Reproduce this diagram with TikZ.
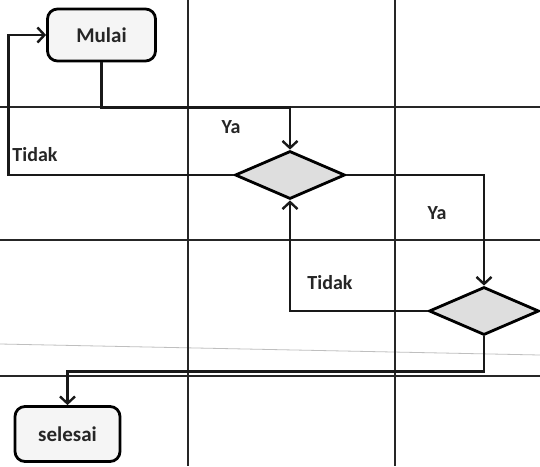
\documentclass[tikz,border=0pt]{standalone}
\usepackage{fontspec}
\setmainfont{Carlito}
\usetikzlibrary{shapes.geometric,arrows.meta}
\begin{document}
\begin{tikzpicture}[x=1pt,y=-1pt,
  grid/.style={line width=2pt,black!85},
  conn/.style={line width=2.8pt,black!90,-{Straight Barb[length=7pt,width=15pt,line width=2.4pt]}},
  startbox/.style={draw,line width=2.8pt,rounded corners=10pt,fill=black!4,minimum width=108pt,minimum height=52pt,inner sep=0pt,font=\bfseries\fontsize{21}{24}\selectfont,text=black!85},
  decision/.style={draw,diamond,line width=2.8pt,fill=black!13,minimum width=110pt,minimum height=48pt,inner sep=0pt,aspect=2.3},
  lbl/.style={font=\bfseries\fontsize{20}{24}\selectfont,inner sep=0pt,text=black!85}]
\useasboundingbox (0,0) rectangle (540,466);
\fill[white] (0,0) rectangle (540,466);
% scan artifact
\draw[black!25,line width=0.8pt] (0,344) -- (540,355);
% grid
\draw[grid] (188,0) -- (188,466);
\draw[grid] (395,0) -- (395,466);
\draw[grid] (0,107) -- (540,107);
\draw[grid] (0,240) -- (540,240);
\draw[grid] (0,376) -- (540,376);
% nodes
\node[startbox] (mulai) at (101.5,35) {Mulai};
\node[startbox,minimum width=105pt,minimum height=55pt] (selesai) at (67.5,434) {selesai};
\node[decision] (d1) at (290,175) {};
\node[decision] (d2) at (484,311) {};
% connectors
\draw[conn] (mulai.south) -- ++(0,45) -| (d1.north);
\draw[conn] (d1.west) -- ++(-225,0) |- (mulai.west);
\draw[conn] (d1.east) -| (d2.north);
\draw[conn] (d2.west) -| (d1.south);
\draw[conn] (d2.south) -- ++(0,35) -| (selesai.north);
% labels
\node[lbl] (ya1) at (231,127) {Ya};
\node[lbl] (tidak1) at (35,155) {Tidak};
\node[lbl] (ya2) at (437,213) {Ya};
\node[lbl] (tidak2) at (330,283) {Tidak};
\end{tikzpicture}
\end{document}
